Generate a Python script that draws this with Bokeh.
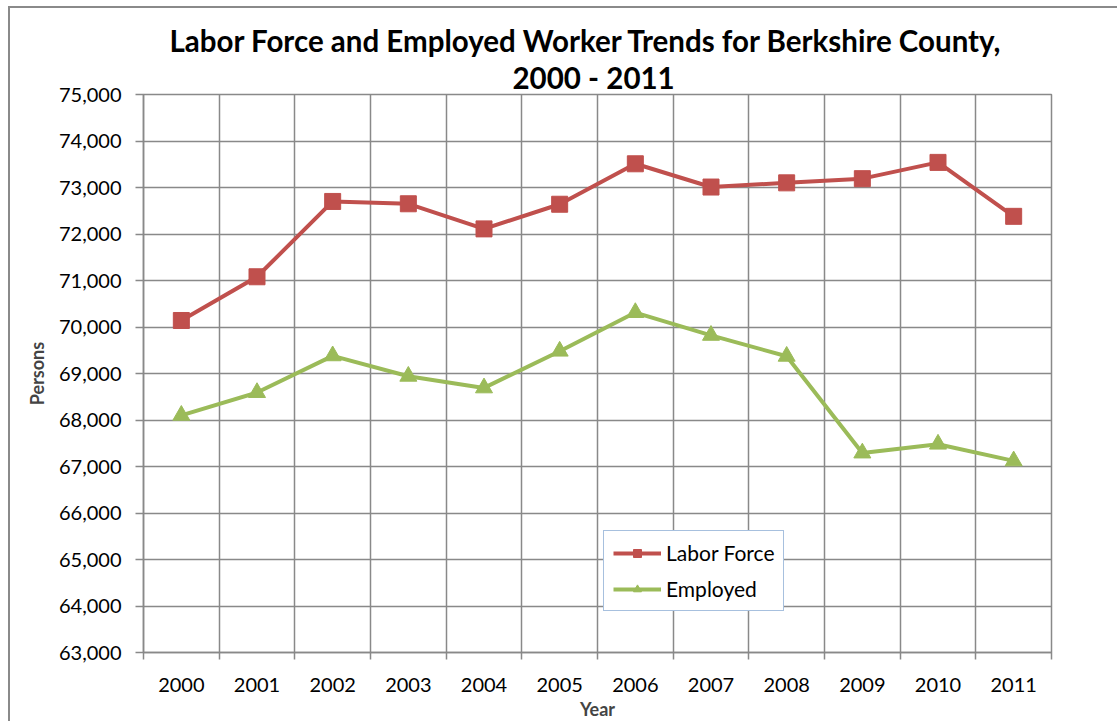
from bokeh.plotting import figure
from bokeh.models import FixedTicker, NumeralTickFormatter, Range1d, Legend, LegendItem, Title
from bokeh.embed import file_html
from bokeh.resources import INLINE

years = [2000, 2001, 2002, 2003, 2004, 2005, 2006, 2007, 2008, 2009, 2010, 2011]
labor_force = [70140, 71080, 72700, 72650, 72110, 72640, 73510, 73010, 73100, 73190, 73540, 72380]
employed = [68100, 68590, 69380, 68940, 68690, 69480, 70310, 69820, 69370, 67290, 67480, 67120]
y_ticks = list(range(63000, 75001, 1000))

RED = "#C0504D"
GREEN = "#9BBB59"
GRID = "#898989"
FONT = "Lato"

boundaries = [y - 0.5 for y in years] + [years[-1] + 0.5]

p = figure(width=1109, height=715, output_backend="svg", toolbar_location=None,
           title=None,
           x_range=Range1d(years[0] - 0.5, years[-1] + 0.5),
           y_range=Range1d(y_ticks[0], y_ticks[-1]),
           min_border_left=133, min_border_right=68, min_border_top=86, min_border_bottom=71)
p.styles = {"border-left": "2px solid #8a8a8a", "border-top": "2px solid #8a8a8a",
            "margin-left": "8px", "margin-top": "6px"}

p.outline_line_color = GRID
p.outline_line_width = 1.5
p.background_fill_color = "white"
p.border_fill_color = "white"

# grids
p.xgrid.ticker = FixedTicker(ticks=boundaries)
p.ygrid.ticker = FixedTicker(ticks=y_ticks)
for g in (p.xgrid, p.ygrid):
    g.grid_line_color = GRID
    g.grid_line_width = 1.5

# x axis
xa = p.xaxis[0]
xa.ticker = FixedTicker(ticks=years, minor_ticks=boundaries)
xa.major_tick_out = 0
xa.major_tick_in = 0
xa.minor_tick_out = 7
xa.minor_tick_in = 0
xa.minor_tick_line_color = GRID
xa.minor_tick_line_width = 1.5
xa.axis_line_color = GRID
xa.axis_line_width = 1.5
xa.major_label_standoff = 18
xa.major_label_text_font = FONT
xa.major_label_text_font_size = "20px"
xa.major_label_text_color = "black"
xa.axis_label = "Year"
xa.axis_label_text_font = FONT
xa.axis_label_text_font_size = "18px"
xa.axis_label_text_font_style = "bold"
xa.axis_label_standoff = 3

# y axis
ya = p.yaxis[0]
ya.ticker = FixedTicker(ticks=y_ticks)
ya.formatter = NumeralTickFormatter(format="0,0")
ya.major_tick_out = 8
ya.major_tick_in = 0
ya.minor_tick_out = 0
ya.minor_tick_in = 0
ya.major_tick_line_color = GRID
ya.major_tick_line_width = 1.5
ya.axis_line_color = GRID
ya.axis_line_width = 1.5
ya.major_label_standoff = 14
ya.major_label_text_font = FONT
ya.major_label_text_font_size = "20px"
ya.major_label_text_color = "black"
ya.axis_label = "Persons"
ya.axis_label_text_font = FONT
ya.axis_label_text_font_size = "18px"
ya.axis_label_text_font_style = "bold"
ya.axis_label_standoff = 8

# titles
p.add_layout(Title(text="2000 - 2011", align="left", text_font=FONT, text_font_size="29.5px",
                   text_font_style="bold", text_color="black", standoff=0, offset=369), "above")
p.add_layout(Title(text="Labor Force and Employed Worker Trends for Berkshire County,", align="left",
                   text_font=FONT, text_font_size="29.5px", text_font_style="bold", text_color="black",
                   standoff=0, offset=26), "above")

# series
l1 = p.line(years, labor_force, line_color=RED, line_width=4)
m1 = p.scatter(years, labor_force, marker="square", size=16, fill_color=RED, line_color=RED)
l2 = p.line(years, employed, line_color=GREEN, line_width=4)
m2 = p.scatter(years, employed, marker="triangle", size=17, fill_color=GREEN, line_color=GREEN)

legend = Legend(items=[LegendItem(label="Labor Force", renderers=[l1, m1]),
                       LegendItem(label="Employed", renderers=[l2, m2])],
                location=(460, 41))
legend.border_line_color = "#4F81BD"
legend.border_line_width = 1.5
legend.background_fill_color = "white"
legend.background_fill_alpha = 1
legend.label_text_font = FONT
legend.label_text_font_size = "21px"
legend.label_text_color = "black"
legend.glyph_width = 48
legend.glyph_height = 20
legend.label_height = 20
legend.spacing = 11
legend.padding = 9
legend.margin = 0
legend.label_standoff = 5
p.add_layout(legend)

open("out.html", "w").write(file_html(p, INLINE))
